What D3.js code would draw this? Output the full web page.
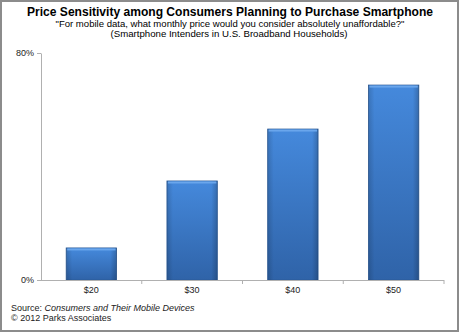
<!DOCTYPE html>
<html><head><meta charset="utf-8">
<script src="https://cdn.jsdelivr.net/npm/d3@7"></script>
<style>body{margin:0;background:#fff}svg{display:block;font-family:"Liberation Sans",Arial,sans-serif}</style>
</head><body>
<script>
const categories = ["$20", "$30", "$40", "$50"];
const values = [11.3, 34.9, 53.2, 68.7];
const yTicks = [0, 80];
const title = "Price Sensitivity among Consumers Planning to Purchase Smartphone";
const subtitle1 = "\"For mobile data, what monthly price would you consider absolutely unaffordable?\"";
const subtitle2 = "(Smartphone Intenders  in U.S. Broadband Households)";

const W = 460, H = 333;
const svg = d3.select("body").append("svg").attr("width", W).attr("height", H);
const defs = svg.append("defs");
const g1 = defs.append("linearGradient").attr("id","bg").attr("x1",0).attr("y1",0).attr("x2",0).attr("y2",1);
g1.append("stop").attr("offset","0%").attr("stop-color","#4589dc");
g1.append("stop").attr("offset","100%").attr("stop-color","#2f63a8");
const g2 = defs.append("linearGradient").attr("id","sh").attr("x1",0).attr("y1",0).attr("x2",1).attr("y2",0);
g2.append("stop").attr("offset","0%").attr("stop-color","#000").attr("stop-opacity",0.15);
g2.append("stop").attr("offset","12%").attr("stop-color","#000").attr("stop-opacity",0);
g2.append("stop").attr("offset","88%").attr("stop-color","#000").attr("stop-opacity",0);
g2.append("stop").attr("offset","100%").attr("stop-color","#000").attr("stop-opacity",0.2);

svg.append("rect").attr("x",1).attr("y",1).attr("width",W-3).attr("height",H-3)
  .attr("fill","#fff").attr("stroke","#8c8c8c").attr("stroke-width",2);

svg.append("text").attr("x",230).attr("y",16).attr("text-anchor","middle")
  .attr("font-size",12).attr("font-weight","bold").attr("fill","#000")
  .attr("textLength",406).attr("lengthAdjust","spacingAndGlyphs").text(title);
svg.append("text").attr("x",230).attr("y",26.5).attr("text-anchor","middle")
  .attr("font-size",9.5).attr("fill","#000")
  .attr("textLength",349).attr("lengthAdjust","spacingAndGlyphs").text(subtitle1);
svg.append("text").attr("x",229).attr("y",37).attr("text-anchor","middle")
  .attr("font-size",9.5).attr("fill","#000")
  .attr("textLength",237).attr("lengthAdjust","spacingAndGlyphs").text(subtitle2);

const x = d3.scaleBand().domain(categories).range([41, 444]).paddingInner(0.5).paddingOuter(0.25);
const y = d3.scaleLinear().domain([0, 80]).range([280, 53]);

// bars
const bars = svg.append("g");
bars.selectAll("rect.b").data(values).join("rect").attr("class","b")
  .attr("x",(d,i)=>x(categories[i])).attr("width",x.bandwidth())
  .attr("y",d=>y(d)).attr("height",d=>y(0)-y(d))
  .attr("fill","url(#bg)").attr("stroke","#2c5a96").attr("stroke-width",0.8);
bars.selectAll("rect.s").data(values).join("rect").attr("class","s")
  .attr("x",(d,i)=>x(categories[i])).attr("width",x.bandwidth())
  .attr("y",d=>y(d)).attr("height",d=>y(0)-y(d))
  .attr("fill","url(#sh)");
bars.selectAll("rect.t").data(values).join("rect").attr("class","t")
  .attr("x",(d,i)=>x(categories[i])+1).attr("width",x.bandwidth()-2)
  .attr("y",d=>y(d)+0.5).attr("height",2)
  .attr("fill","#6aa6ec");

// y axis
const yAxis = svg.append("g").attr("transform","translate(41,0)")
  .call(d3.axisLeft(y).tickValues(yTicks).tickFormat(d=>d+"%").tickSize(4).tickSizeOuter(0));
yAxis.select(".domain").attr("stroke","#b0b0b0");
yAxis.selectAll(".tick line").attr("stroke","#b0b0b0");
yAxis.selectAll(".tick text").attr("font-size",9).attr("fill","#222").attr("font-family","Liberation Sans, Arial, sans-serif");

// x axis
const xAxis = svg.append("g").attr("transform","translate(0,280)")
  .call(d3.axisBottom(x).tickSize(0).tickPadding(7));
xAxis.select(".domain").attr("stroke","#b0b0b0").attr("d","M41,0.5H444");
xAxis.selectAll(".tick text").attr("font-size",9).attr("fill","#222").attr("font-family","Liberation Sans, Arial, sans-serif");
xAxis.selectAll("line.sep").data(categories).join("line").attr("class","sep")
  .attr("x1",(d,i)=>41 + (i+1)*(403/categories.length)).attr("x2",(d,i)=>41 + (i+1)*(403/categories.length))
  .attr("y1",0).attr("y2",4).attr("stroke","#b0b0b0");

// source
const src = svg.append("text").attr("x",11).attr("y",311).attr("font-size",9).attr("fill","#222");
src.append("tspan").text("Source: ");
src.append("tspan").attr("font-style","italic").text("Consumers and Their Mobile Devices");
svg.append("text").attr("x",11).attr("y",321).attr("font-size",9).attr("fill","#222").text("© 2012 Parks Associates");
</script>
</body></html>
